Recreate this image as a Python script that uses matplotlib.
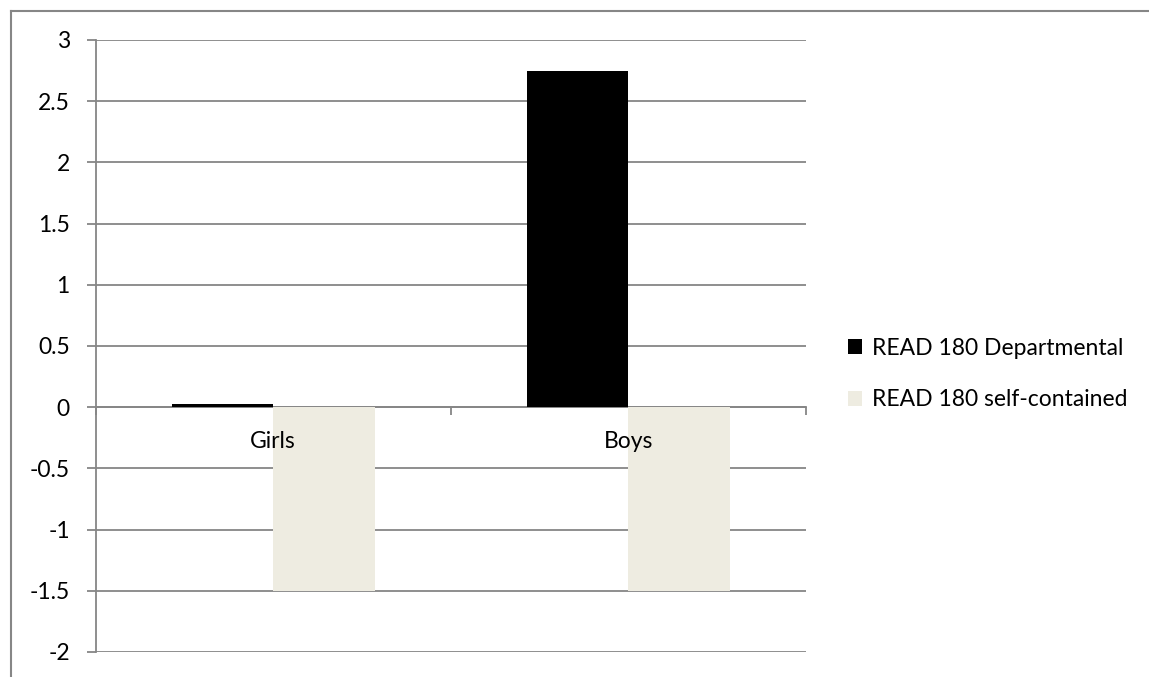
import matplotlib.pyplot as plt
from matplotlib.lines import Line2D

categories = ['Girls', 'Boys']
departmental = [0.03, 2.75]
self_contained = [-1.5, -1.5]
series_names = ['READ 180 Departmental', 'READ 180 self-contained']
yticks = [-2, -1.5, -1, -0.5, 0, 0.5, 1, 1.5, 2, 2.5, 3]

plt.rcParams['font.family'] = ['Lato', 'DejaVu Sans']
plt.rcParams['font.size'] = 16.5

W, H = 1149, 677
grid_c = '#868686'
fig = plt.figure(figsize=(W / 100, H / 100), dpi=100)
ax = fig.add_axes([95.5 / W, (H - 652) / H, (806 - 95.5) / W, (652 - 40) / H])

x = list(range(len(categories)))
w = 0.2855
ax.bar([i - w / 2 for i in x], departmental, w, color='black', label=series_names[0], zorder=3)
ax.bar([i + w / 2 for i in x], self_contained, w, color='#EEECE1', label=series_names[1], zorder=3)

ax.set_xlim(-0.5, len(categories) - 0.5)
ax.set_ylim(-2, 3)
ax.set_yticks(yticks)
ax.set_yticklabels([f'{v:g}' for v in yticks])
ax.yaxis.grid(True, color=grid_c, lw=1.3, zorder=0)
ax.tick_params(axis='y', length=6.5, width=1.3, color=grid_c, pad=12)

# category axis sits on the zero line
ax.spines['bottom'].set_position(('data', 0))
ax.set_xticks([-0.5, 0.5, 1.5])
ax.set_xticklabels([])
ax.tick_params(axis='x', length=5.5, width=1.3, color=grid_c, direction='out')
for i, name in zip(x, categories):
    ax.annotate(name, (i, 0), xytext=(0, -24), textcoords='offset pixels',
                ha='center', va='top', zorder=5)
for s in ['top', 'right']:
    ax.spines[s].set_visible(False)
for s in ['left', 'bottom']:
    ax.spines[s].set_color(grid_c)
    ax.spines[s].set_linewidth(1.3)
    ax.spines[s].set_zorder(1)

fig.legend(loc='center left', bbox_to_anchor=(848 / W, 1 - 374 / H), frameon=False,
           handlelength=0.61, handleheight=0.61, handletextpad=0.45, labelspacing=1.35,
           borderpad=0, borderaxespad=0)

# chart frame
fig.add_artist(Line2D([11 / W, 1], [1 - 11 / H] * 2, color=grid_c, lw=1.5))
fig.add_artist(Line2D([11 / W] * 2, [0, 1 - 11 / H], color=grid_c, lw=1.5))

fig.savefig('out.png', dpi=100)
